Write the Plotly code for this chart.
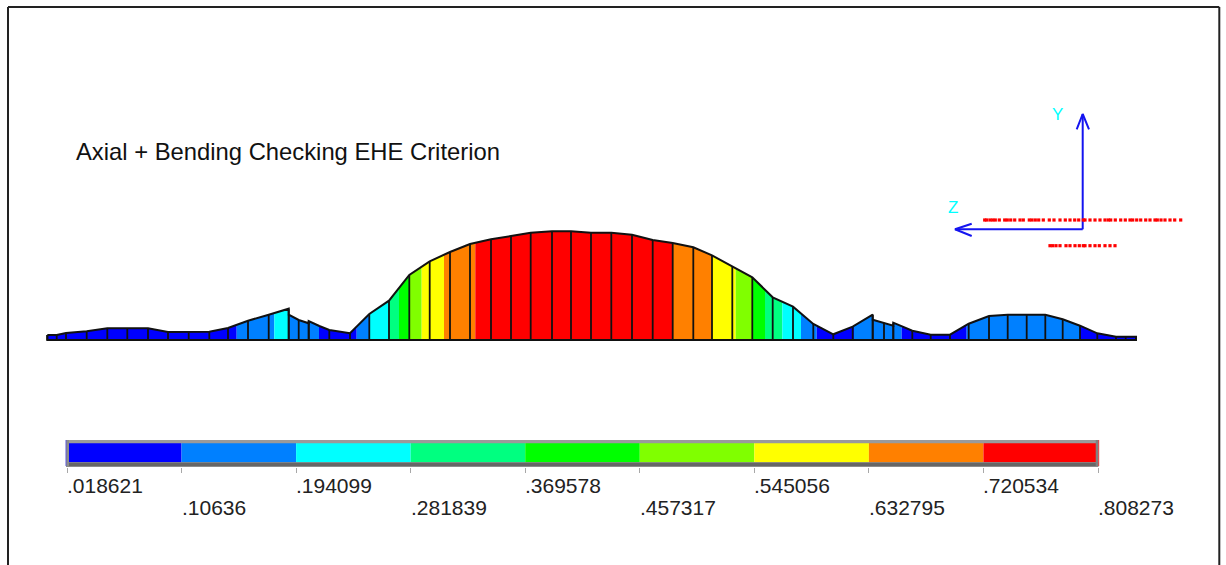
import plotly.graph_objects as go

W, H = 1226, 565
BASE_PX = 340

TITLE = "Axial + Bending Checking EHE Criterion"
LEVELS = [.018621, .10636, .194099, .281839, .369578, .457317, .545056, .632795, .720534, .808273]
LEVEL_LABELS = [".018621", ".10636", ".194099", ".281839", ".369578", ".457317", ".545056", ".632795", ".720534", ".808273"]
PALETTE = ["#0000ff", "#0080ff", "#00ffff", "#00ff80", "#00ff00", "#80ff00", "#ffff00", "#ff8000", "#ff0000"]

# envelope: station position and height above the beam line
env_x = [47.3, 56.7, 66, 86.7, 107.3, 127.3, 148, 168, 188.7, 209.3, 228, 248, 268.7, 288.7, 288.7, 298.7, 308.7, 308.7,
         319.3, 329.3, 350, 369.3, 389, 400, 409.3, 429.7, 450, 470, 491, 511, 530.7, 552, 571, 591, 611.3, 632, 652.7,
         672.7, 693.3, 712, 732.3, 752.3, 772.7, 793, 813.3, 833.3, 852.7, 872.7, 872.7, 884, 893.3, 893.3, 912.3,
         930.7, 950, 968.7, 989, 1007.7, 1026.7, 1045.3, 1062.7, 1080, 1097.3, 1116, 1125.7, 1136]
env_h = [5, 5, 7, 8.7, 11.7, 11.7, 11.7, 8, 8, 8.3, 12, 19.3, 25.3, 31.3, 25.3, 20, 16.7, 19,
         14, 10, 6.7, 26, 39.3, 53.3, 65, 78.7, 88, 96, 100.7, 104, 107.3, 108.7, 108.7, 107.3, 107.3, 105.3, 100,
         97, 92.7, 84.7, 73.3, 62.7, 42.7, 33.3, 16, 5.7, 13.3, 25.3, 20.3, 17.3, 14.3, 17.3, 9.3,
         5.3, 5.3, 16.3, 24, 25.3, 25.3, 25.3, 20.7, 14.3, 6.7, 3.3, 3.3, 3.3]
# envelope vertices that carry no station divider
no_divider_x = [319.3, 400]

# colour stripes along the beam: stripe edges and palette index of each stripe
band_edges = [47.3, 236.7, 274.3, 288.7, 319, 356.7, 369.3, 389, 399, 409.3, 421.7, 444, 475.3, 672.7, 712, 735.7,
              752.3, 765, 782.3, 801, 816.7, 854, 901.7, 966.7, 1080, 1136]
band_color = [0, 1, 2, 1, 0, 1, 2, 3, 4, 5, 6, 7, 8, 7, 6, 5, 4, 3, 2, 1, 0, 1, 0, 1, 0]

# section reinforcement dots
dots_top_x = [984.7, 986.7, 990, 992.7, 995.3, 999.3, 1004.7, 1007.3, 1010.7, 1014.7, 1020, 1023.3, 1029.3, 1032, 1035.3,
              1038.7, 1043.3, 1049.3, 1054, 1060, 1065.3, 1070, 1074.7, 1078.7, 1083.3, 1085, 1090, 1095, 1100, 1105,
              1108.3, 1110.7, 1115.3, 1120.7, 1125.3, 1130, 1132.7, 1136.7, 1140.7, 1145.7, 1150, 1155, 1157.3, 1161,
              1165, 1170, 1174.7, 1180.7]
dots_low_x = [1050, 1052.7, 1056, 1060, 1066, 1070, 1075, 1079.3, 1083.3, 1085, 1090, 1095, 1099.3, 1105, 1110, 1115]
DOT_TOP_H, DOT_LOW_H = 120, 94.3

# local axes glyph: origin, arrow tips and arrow barbs
axis_y_x = [1082.7, 1082.7]
axis_y_h = [110.7, 226]
axis_y_barb_x = [1076.7, 1082.7, 1089]
axis_y_barb_h = [210.7, 226, 210.7]
axis_z_x = [1082.7, 955]
axis_z_h = [110.7, 110.7]
axis_z_barb_x = [971.7, 955, 971.7]
axis_z_barb_h = [116.3, 110.7, 104]


def band_polygon(a, b):
    xs, hs = [], []
    for i in range(len(env_x) - 1):
        x0, x1, h0, h1 = env_x[i], env_x[i + 1], env_h[i], env_h[i + 1]
        if x1 <= x0 or x1 <= a or x0 >= b:
            continue
        lo, hi = max(a, x0), min(b, x1)
        t0, t1 = (lo - x0) / (x1 - x0), (hi - x0) / (x1 - x0)
        xs += [lo, hi]
        hs += [h0 + (h1 - h0) * t0, h0 + (h1 - h0) * t1]
    return [xs[0]] + xs + [xs[-1]], [0] + hs + [0]


fig = go.Figure()

for i, c in enumerate(band_color):
    px, ph = band_polygon(band_edges[i], band_edges[i + 1])
    fig.add_trace(go.Scatter(x=px, y=ph, mode="lines", fill="toself", fillcolor=PALETTE[c],
                             line=dict(width=0), hoverinfo="skip", showlegend=False))

# station dividers
div_x, div_h = [], []
for x, h in zip(env_x, env_h):
    if x in no_divider_x:
        continue
    div_x += [x, x, None]
    div_h += [0, h, None]
fig.add_trace(go.Scatter(x=div_x, y=div_h, mode="lines", line=dict(color="#111111", width=1.8),
                         hoverinfo="skip", showlegend=False))
# outline
fig.add_trace(go.Scatter(x=env_x + [env_x[-1], env_x[0], env_x[0]], y=env_h + [0, 0, env_h[0]], mode="lines",
                         line=dict(color="#111111", width=2), hoverinfo="skip", showlegend=False))

# colour scale cells
fig.add_trace(go.Bar(x=[(a + b) / 2 for a, b in zip(LEVELS[:-1], LEVELS[1:])],
                     y=[19.3] * 9, base=[-122.3] * 9,
                     width=[b - a for a, b in zip(LEVELS[:-1], LEVELS[1:])],
                     marker=dict(color=PALETTE, line=dict(width=0)),
                     xaxis="x2", yaxis="y", hoverinfo="skip", showlegend=False))

# axes glyph and reinforcement
for xs, hs in [(axis_y_x, axis_y_h), (axis_y_barb_x, axis_y_barb_h), (axis_z_x, axis_z_h), (axis_z_barb_x, axis_z_barb_h)]:
    fig.add_trace(go.Scatter(x=xs, y=hs, mode="lines", line=dict(color="#1414f0", width=2),
                             hoverinfo="skip", showlegend=False))
for xs, h in [(dots_top_x, DOT_TOP_H), (dots_low_x, DOT_LOW_H)]:
    fig.add_trace(go.Scatter(x=xs, y=[h] * len(xs), mode="markers",
                             marker=dict(color="#ff0000", size=3.2, symbol="square", line=dict(width=0)),
                             hoverinfo="skip", showlegend=False))

shapes = [
    dict(type="line", xref="x", yref="y", x0=8, x1=8, y0=BASE_PX - 7, y1=BASE_PX - 570, line=dict(color="#222222", width=2)),
    dict(type="line", xref="x", yref="y", x0=1219.3, x1=1219.3, y0=BASE_PX - 7, y1=BASE_PX - 570, line=dict(color="#222222", width=2)),
    dict(type="line", xref="x", yref="y", x0=8, x1=1219.3, y0=BASE_PX - 7, y1=BASE_PX - 7, line=dict(color="#222222", width=2)),
    # bevel of the colour scale
    dict(type="rect", xref="x", yref="y", x0=66, x1=1098.5, y0=BASE_PX - 440, y1=BASE_PX - 443.3, fillcolor="#9a9a9a", line=dict(width=0)),
    dict(type="rect", xref="x", yref="y", x0=66, x1=1098.5, y0=BASE_PX - 462.3, y1=BASE_PX - 466.7, fillcolor="#666666", line=dict(width=0)),
    dict(type="rect", xref="x", yref="y", x0=66, x1=69, y0=BASE_PX - 440, y1=BASE_PX - 466, fillcolor="#8c8c8c", line=dict(width=0)),
    dict(type="rect", xref="x", yref="y", x0=1095.7, x1=1098.5, y0=BASE_PX - 440, y1=BASE_PX - 466, fillcolor="#808080", line=dict(width=0)),
    dict(type="line", xref="x", yref="y", x0=66, x1=66, y0=BASE_PX - 440, y1=BASE_PX - 466, line=dict(color="#5a5ad8", width=1)),
    dict(type="line", xref="x", yref="y", x0=1098.7, x1=1098.7, y0=BASE_PX - 440, y1=BASE_PX - 466, line=dict(color="#e04040", width=1)),
]

ann = [
    dict(text=TITLE, x=73.5, y=BASE_PX - 151, xref="x", yref="y", xanchor="left", yanchor="middle", showarrow=False,
         font=dict(family="Liberation Sans", size=23.8, color="#111111")),
    dict(text="Y", x=1057, y=BASE_PX - 114, xref="x", yref="y", showarrow=False,
         font=dict(family="Liberation Sans", size=17, color="#00ffff")),
    dict(text="Z", x=953, y=BASE_PX - 207, xref="x", yref="y", showarrow=False,
         font=dict(family="Liberation Sans", size=17, color="#00ffff")),
]
for i, (lv, lab) in enumerate(zip(LEVELS, LEVEL_LABELS)):
    ann.append(dict(text=lab, x=lv, y=BASE_PX - (485 if i % 2 == 0 else 507), xref="x2", yref="y",
                    xanchor="left", yanchor="middle", xshift=-2, showarrow=False,
                    font=dict(family="Liberation Sans", size=21, color="#222222")))

fig.update_layout(
    width=W, height=H, autosize=False, margin=dict(l=0, r=0, t=0, b=0),
    paper_bgcolor="white", plot_bgcolor="rgba(0,0,0,0)", showlegend=False, barmode="overlay",
    shapes=shapes, annotations=ann,
    xaxis=dict(range=[0, W], visible=False, domain=[0, 1], fixedrange=True),
    yaxis=dict(range=[BASE_PX - H, BASE_PX], visible=False, domain=[0, 1], fixedrange=True),
    xaxis2=dict(range=[LEVELS[0], LEVELS[-1]], domain=[67 / W, 1098 / W], anchor="free",
                position=1 - 467 / H, side="bottom", showline=False, showgrid=False, zeroline=False,
                tickmode="array", tickvals=LEVELS, ticks="outside", ticklen=5, tickwidth=1, tickcolor="#a8a8a8",
                showticklabels=False, fixedrange=True),
)

fig.write_html("out.html", config=dict(displayModeBar=False),
               post_script="document.body.style.margin='0';document.documentElement.style.overflow='hidden';")
